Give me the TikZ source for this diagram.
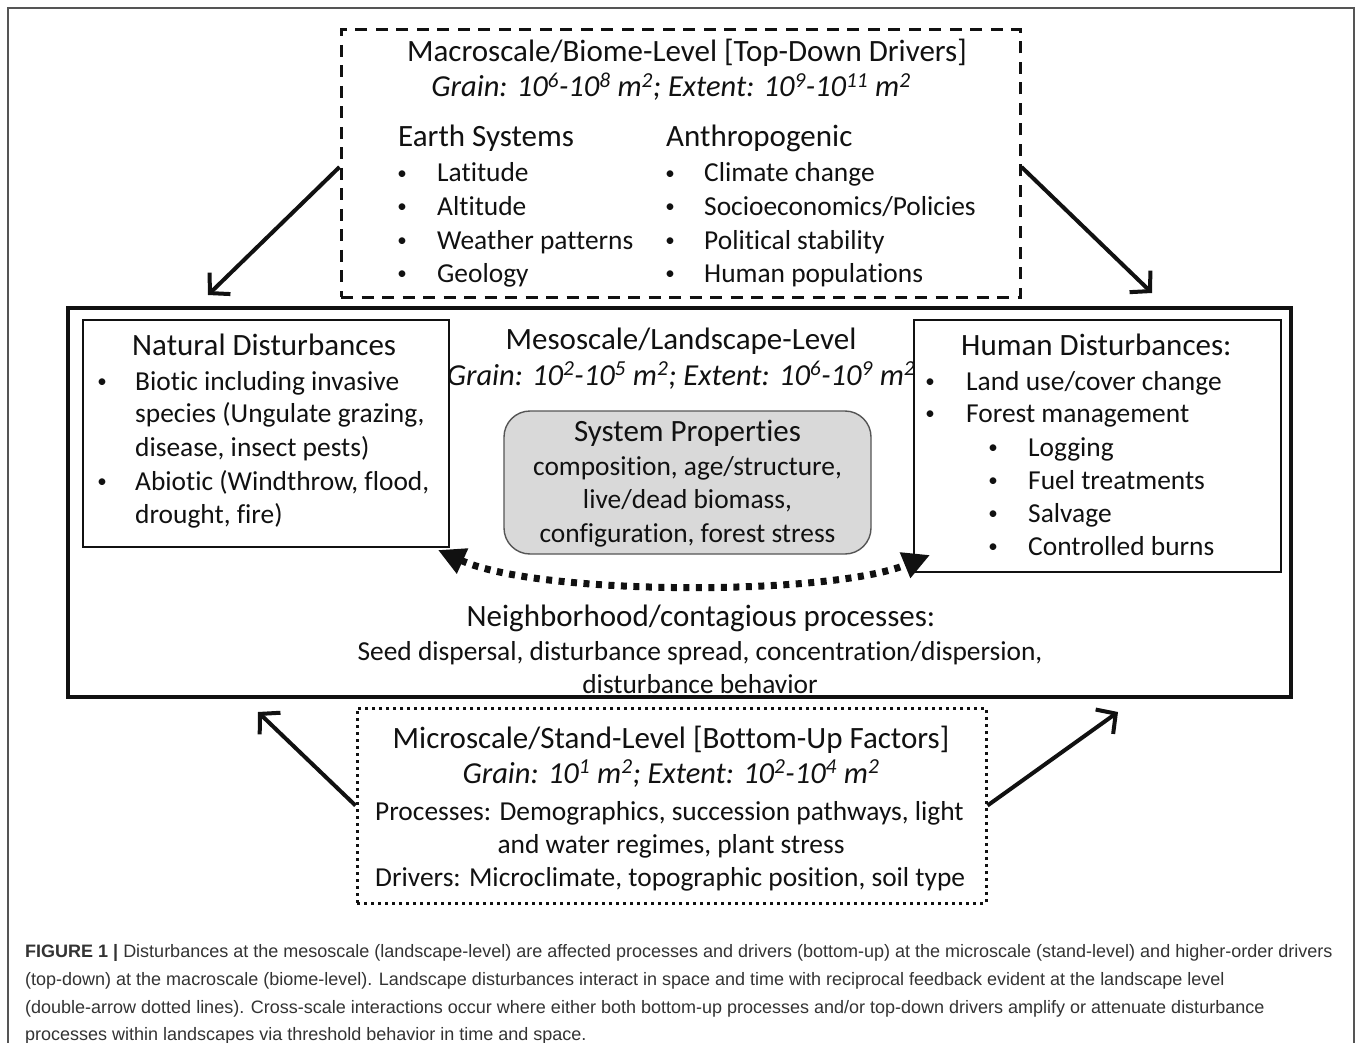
\documentclass[tikz,border=0pt]{standalone}
\usepackage{fontspec}
\setmainfont{Carlito}[Ligatures=NoCommon]
\newfontfamily\capfont{Liberation Sans}
\usetikzlibrary{arrows.meta}

\definecolor{ink}{HTML}{111111}
\definecolor{propfill}{HTML}{D9D9D9}
\definecolor{framegray}{HTML}{555555}
\definecolor{capgray}{HTML}{333333}
\newcommand{\sps}[1]{\textsuperscript{#1}}
\newcommand{\dotmark}{\raisebox{2.5pt}{•}}

\begin{document}
\begin{tikzpicture}[x=1pt,y=-1pt,
  body/.style={font=\fontsize{27.4}{33}\selectfont, inner sep=0pt, text=ink},
  grain/.style={font=\fontsize{30.5}{36}\selectfont\itshape, inner sep=0pt, text=ink, anchor=base},
  headtxt/.style={font=\fontsize{31}{37}\selectfont, inner sep=0pt, text=ink},
  bul/.style={font=\fontsize{19}{20}\selectfont, inner sep=0pt, text=ink, anchor=base},
  caption/.style={font=\capfont\fontsize{18}{21}\selectfont, inner sep=0pt, text=capgray, anchor=base west},
  plainbox/.style={draw=ink, line width=1.4pt, inner sep=0pt},
  macrobox/.style={draw=ink, line width=3pt, dash pattern=on 12pt off 8.5pt, inner sep=0pt},
  microbox/.style={draw=ink, line width=3pt, dash pattern=on 3pt off 4pt, inner sep=0pt},
  mesobox/.style={draw=ink, line width=4.5pt, inner sep=0pt},
  propbox/.style={draw=framegray, fill=propfill, line width=1.4pt, rounded corners=26pt, inner sep=0pt},
  scalearrow/.style={draw=ink, line width=4pt, -{Straight Barb[length=14pt,width=30pt]}},
  feedback/.style={draw=ink, line width=7pt, dash pattern=on 6pt off 6.5pt,
    {Triangle[length=27pt,width=26pt]}-{Triangle[length=27pt,width=26pt]}}
]
\useasboundingbox (0,0) rectangle (1360,1043);
\fill[white] (0,0) rectangle (1360,1043);

% outer figure frame (open at the bottom)
\draw[framegray, line width=2pt] (8,1043) -- (8,8) -- (1354,8) -- (1354,1043);

% ---- boxes ----
\node[macrobox, minimum width=679pt, minimum height=267pt] (macro) at (680.5,163.5) {};
\node[mesobox, minimum width=1223pt, minimum height=389pt] (meso) at (679.5,502.5) {};
\node[plainbox, minimum width=366pt, minimum height=227pt] (natural) at (266,433.5) {};
\node[plainbox, minimum width=367pt, minimum height=252pt] (human) at (1097.5,446) {};
\node[propbox, minimum width=367pt, minimum height=143pt] (props) at (687.5,482.5) {};
\node[microbox, minimum width=629pt, minimum height=195pt] (micro) at (671.5,805.5) {};

% ---- macroscale text ----
\node[headtxt, anchor=base] (macroT) at (687,62) {Macroscale/Biome-Level [Top-Down Drivers]};
\node[grain] (macroG) at (671,97)
  {Grain: 10\sps{6}-10\sps{8} m\sps{2}; Extent: 10\sps{9}-10\sps{11} m\sps{2}};
\node[headtxt, anchor=base west] (earthH) at (398,147) {Earth Systems};
\node[headtxt, anchor=base west] (anthH) at (666,147) {Anthropogenic};
\foreach \yy/\lt/\rt [count=\i] in {182/Latitude/Climate change,
    215/Altitude/Socioeconomics\slash Policies,
    249/Weather patterns/Political stability,
    282/Geology/Human populations}{
  \node[bul] (eb\i) at (402,\yy) {\dotmark};
  \node[body, anchor=base west] (et\i) at (437,\yy) {\lt};
  \node[bul] (ab\i) at (670,\yy) {\dotmark};
  \node[body, anchor=base west] (at\i) at (704,\yy) {\rt};
}

% ---- mesoscale text ----
\node[headtxt, anchor=base] (mesoT) at (681,349) {Mesoscale/Landscape-Level};
\node[grain] (mesoG) at (681,385)
  {Grain: 10\sps{2}-10\sps{5} m\sps{2}; Extent: 10\sps{6}-10\sps{9} m\sps{2}};

\node[headtxt, anchor=base west] (natT) at (132,355) {Natural Disturbances};
\node[bul] (nb1) at (102,390) {\dotmark};
\node[body, anchor=base west] (n1) at (135,390) {Biotic including invasive};
\node[body, anchor=base west] (n2) at (135,422) {species (Ungulate grazing,};
\node[body, anchor=base west] (n3) at (135,456) {disease, insect pests)};
\node[bul] (nb2) at (102,490) {\dotmark};
\node[body, anchor=base west] (n4) at (135,490) {Abiotic (Windthrow, flood,};
\node[body, anchor=base west] (n5) at (135,523) {drought, fire)};

\node[headtxt, anchor=base west] (humT) at (961,355) {Human Disturbances:};
\node[bul] (hb1) at (930,390) {\dotmark};
\node[body, anchor=base west] (h1) at (966,390) {Land use/cover change};
\node[bul] (hb2) at (930,422) {\dotmark};
\node[body, anchor=base west] (h2) at (966,422) {Forest management};
\foreach \yy/\tx [count=\i] in {456/Logging, 489/Fuel treatments, 522/Salvage, 555/Controlled burns}{
  \node[bul] (hsb\i) at (993,\yy) {\dotmark};
  \node[body, anchor=base west] (hs\i) at (1028,\yy) {\tx};
}

\node[headtxt, anchor=base] (propT) at (687.5,441) {System Properties};
\node[body, anchor=base] (p1) at (687.5,475) {composition, age/structure,};
\node[body, anchor=base] (p2) at (687.5,508) {live/dead biomass,};
\node[body, anchor=base] (p3) at (687.5,542) {configuration, forest stress};

\node[headtxt, anchor=base] (nbhT) at (701,626) {Neighborhood/contagious processes:};
\node[body, anchor=base] (nbh1) at (700,660) {Seed dispersal, disturbance spread, concentration/dispersion,};
\node[body, anchor=base] (nbh2) at (700,693) {disturbance behavior};

% ---- microscale text ----
\node[headtxt, anchor=base] (microT) at (671,748) {Microscale/Stand-Level [Bottom-Up Factors]};
\node[grain] (microG) at (671,783)
  {Grain: 10\sps{1} m\sps{2}; Extent: 10\sps{2}-10\sps{4} m\sps{2}};
\node[body, anchor=base west] (mp1) at (375,820) {Processes: Demographics, succession pathways, light};
\node[body, anchor=base] (mp2) at (671,853) {and water regimes, plant stress};
\node[body, anchor=base west] (md1) at (375,886) {Drivers: Microclimate, topographic position, soil type};

% ---- cross-scale arrows ----
\coordinate (tlTip) at (208,295);
\coordinate (trTip) at (1152,293);
\coordinate (blTip) at (258,712);
\coordinate (brTip) at (1118,712);
\draw[scalearrow] ([yshift=-3.5pt]macro.west) -- (tlTip);
\draw[scalearrow] ([yshift=-3.5pt]macro.east) -- (trTip);
\draw[scalearrow] (micro.west) -- (blTip);
\draw[scalearrow] (micro.east) -- (brTip);

% ---- reciprocal feedback between disturbance types ----
\coordinate (fbL) at (438,550);
\coordinate (fbR) at (930,555);
\draw[feedback] (fbL) .. controls (540,596) and (830,596) .. (fbR);

% ---- caption ----
\node[caption] (cap1) at (25,957) {\textbf{FIGURE 1 |} Disturbances at the mesoscale (landscape-level) are affected processes and drivers (bottom-up) at the microscale (stand-level) and higher-order drivers};
\node[caption] (cap2) at (25,985) {(top-down) at the macroscale (biome-level). Landscape disturbances interact in space and time with reciprocal feedback evident at the landscape level};
\node[caption] (cap3) at (25,1013) {(double-arrow dotted lines). Cross-scale interactions occur where either both bottom-up processes and/or top-down drivers amplify or attenuate disturbance};
\node[caption] (cap4) at (25,1040) {processes within landscapes via threshold behavior in time and space.};
\end{tikzpicture}
\end{document}
